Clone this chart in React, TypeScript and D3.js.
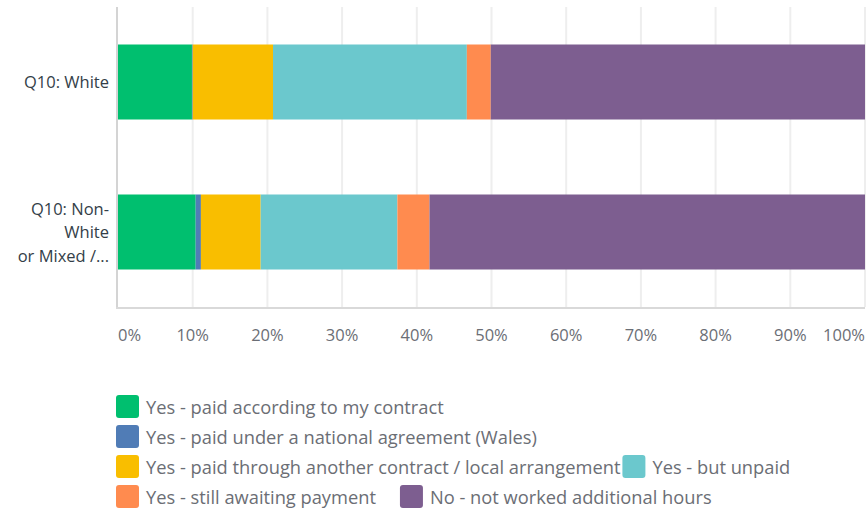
import React, { useEffect, useRef } from "react";
import * as d3 from "d3";

const categories = ["Q10: White", "Q10: Non-White or Mixed /..."];
const categoryLines = [["Q10: White"], ["Q10: Non-", "White", "or Mixed /..."]];
const seriesNames = [
  "Yes - paid according to my contract",
  "Yes - paid under a national agreement (Wales)",
  "Yes - paid through another contract / local arrangement",
  "Yes - but unpaid",
  "Yes - still awaiting payment",
  "No - not worked additional hours",
];
const seriesColors = ["#00bf6f", "#507cb6", "#f9be00", "#6bc8cd", "#ff8b4f", "#7d5e90"];
const whiteValues = [9.9, 0.1, 10.75, 25.95, 3.2, 50.1];
const nonWhiteValues = [10.4, 0.7, 8.0, 18.3, 4.3, 58.3];
const tickValues = [0, 10, 20, 30, 40, 50, 60, 70, 80, 90, 100];
const legendRows = [[0], [1], [2, 3], [4, 5]];

const FONT = "'Open Sans', sans-serif";

export default function App() {
  const ref = useRef<SVGSVGElement | null>(null);
  useEffect(() => {
    const svg = d3.select(ref.current);
    svg.selectAll("*").remove();
    const left = 118, right = 865, top = 7, bottom = 307;
    const x = d3.scaleLinear().domain([0, 100]).range([left, right]);
    const y = d3.scaleBand().domain(categories).range([top, bottom]).paddingInner(0.5).paddingOuter(0.25);

    // gridlines
    svg.append("g").selectAll("line").data(tickValues.slice(1)).join("line")
      .attr("x1", (d) => x(d)).attr("x2", (d) => x(d))
      .attr("y1", top).attr("y2", bottom)
      .attr("stroke", "#eeeeee").attr("stroke-width", 2);

    const rows = [whiteValues, nonWhiteValues];
    rows.forEach((vals, ri) => {
      let acc = 0;
      const segs = vals.map((v, i) => {
        const s = { x0: acc, x1: acc + v, i };
        acc += v;
        return s;
      });
      svg.append("g").selectAll("rect").data(segs).join("rect")
        .attr("x", (d) => x(d.x0))
        .attr("width", (d) => Math.max(0, x(d.x1) - x(d.x0)))
        .attr("y", y(categories[ri])!)
        .attr("height", y.bandwidth())
        .attr("fill", (d) => seriesColors[d.i]);
    });

    // axes lines
    svg.append("line").attr("x1", left - 1).attr("x2", left - 1).attr("y1", top).attr("y2", bottom + 2)
      .attr("stroke", "#d4d4d4").attr("stroke-width", 2);
    svg.append("line").attr("x1", left - 2).attr("x2", right).attr("y1", bottom + 1).attr("y2", bottom + 1)
      .attr("stroke", "#d9d9d9").attr("stroke-width", 2);

    // tick labels
    svg.append("g").selectAll("text").data(tickValues).join("text")
      .attr("x", (d) => x(d))
      .attr("y", 341)
      .attr("text-anchor", (d) => (d === 0 ? "start" : d === 100 ? "end" : "middle"))
      .attr("font-family", FONT).attr("font-size", 16.5).attr("fill", "#6b6e75")
      .text((d) => d + "%");

    // category labels
    categoryLines.forEach((lines, ri) => {
      const cy = y(categories[ri])! + y.bandwidth() / 2;
      const lh = 23.5;
      const t = svg.append("text").attr("text-anchor", "end")
        .attr("font-family", FONT).attr("font-size", 16.5).attr("fill", "#333e48");
      lines.forEach((ln, li) => {
        t.append("tspan").attr("x", 109)
          .attr("y", cy + (li - (lines.length - 1) / 2) * lh + 6)
          .text(ln);
      });
    });

    // legend
    const legendX = 116, legendY0 = 395, rowH = 30, box = 23;
    legendRows.forEach((row, r) => {
      let cx = legendX;
      row.forEach((si) => {
        const g = svg.append("g");
        g.append("rect").attr("x", cx).attr("y", legendY0 + r * rowH).attr("width", box).attr("height", box)
          .attr("rx", 3).attr("fill", seriesColors[si]);
        const txt = g.append("text").attr("x", cx + box + 7).attr("y", legendY0 + r * rowH + 18.5)
          .attr("font-family", FONT).attr("font-size", 18.3).attr("fill", "#6b6e75")
          .text(seriesNames[si]);
        const w = (txt.node() as SVGTextElement).getComputedTextLength();
        cx = cx + box + 7 + w + (r === 2 ? 2 : 24);
      });
    });
  }, []);
  return (
    <svg ref={ref} width={866} height={512} style={{ position: "absolute", left: 0, top: 0 }} />
  );
}
